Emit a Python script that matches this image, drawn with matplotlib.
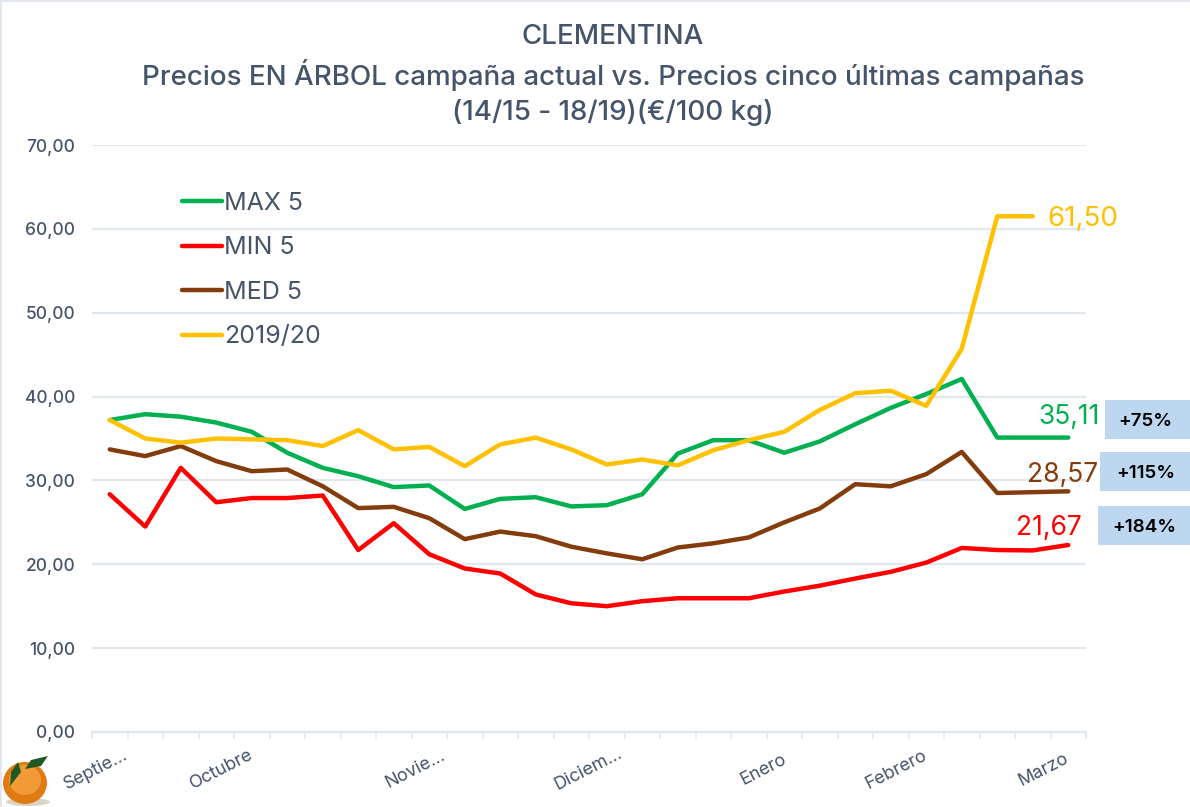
import matplotlib
matplotlib.use("Agg")
import matplotlib.pyplot as plt
from matplotlib.patches import Ellipse, Polygon, Rectangle
import numpy as np

plt.rcParams['font.family'] = ['Inter', 'DejaVu Sans']

# prices (EUR/100 kg), one value per fortnight
max5 = [37.2, 37.9, 37.6, 36.9, 35.8, 33.3, 31.5, 30.5, 29.2, 29.4, 26.6, 27.8, 28.0, 26.9,
        27.05, 28.35, 33.2, 34.8, 34.8, 33.3, 34.65, 36.7, 38.65, 40.3, 42.1, 35.11, 35.11, 35.11]
min5 = [28.35, 24.5, 31.5, 27.4, 27.9, 27.9, 28.2, 21.7, 24.9, 21.2, 19.5, 18.9, 16.4, 15.35,
        15.0, 15.6, 15.95, 15.95, 15.95, 16.75, 17.45, 18.3, 19.1, 20.2, 21.95, 21.7, 21.65, 22.3]
med5 = [33.7, 32.9, 34.1, 32.3, 31.1, 31.3, 29.3, 26.7, 26.85, 25.5, 23.0, 23.9, 23.35, 22.1,
        21.3, 20.6, 22.0, 22.5, 23.2, 25.0, 26.65, 29.55, 29.3, 30.75, 33.4, 28.5, 28.6, 28.7]
cur = [37.2, 35.0, 34.5, 35.0, 34.9, 34.8, 34.1, 36.0, 33.7, 34.0, 31.7, 34.3, 35.1, 33.7,
       31.9, 32.5, 31.8, 33.6, 34.8, 35.8, 38.4, 40.4, 40.7, 38.9, 45.7, 61.5, 61.5]

months = ['Septie...', 'Octubre', 'Novie...', 'Diciem...', 'Enero', 'Febrero', 'Marzo']
month_pos = [-0.4, 3.16, 8.6, 13.47, 18.4, 22.15, 26.3]
yticks = [0, 10, 20, 30, 40, 50, 60, 70]

series_labels = ['MAX 5', 'MIN 5', 'MED 5', '2019/20']
end_labels = ['61,50', '35,11', '28,57', '21,67']
pct_labels = ['+75%', '+115%', '+184%']

GREEN = '#00B050'
RED = '#FF0000'
BROWN = '#843C0C'
YELLOW = '#FFC000'
TEXT = '#44546A'
GRID = '#E2E7EE'

W, H = 1190, 807


def fx(x):
    return x / W


def fy(y):
    return 1 - y / H


fig = plt.figure(figsize=(W / 100, H / 100), dpi=100)
ax = fig.add_axes([fx(92), fy(732), (1086 - 92) / W, (732 - 145) / H])

n = len(max5)
lw = 3.2
ax.plot(range(n), max5, color=GREEN, lw=lw, label=series_labels[0], solid_capstyle='round', zorder=3)
ax.plot(range(n), min5, color=RED, lw=lw, label=series_labels[1], solid_capstyle='round', zorder=3)
ax.plot(range(n), med5, color=BROWN, lw=lw, label=series_labels[2], solid_capstyle='round', zorder=3)
ax.plot(range(len(cur)), cur, color=YELLOW, lw=lw, label=series_labels[3], solid_capstyle='round', zorder=4)

ax.set_xlim(-0.5, n - 0.5)
ax.set_ylim(0, 70)
ax.set_yticks(yticks)
ax.set_yticklabels([f'{v},00' for v in yticks], color=TEXT, fontsize=12.5, fontweight='medium')
ax.tick_params(axis='y', length=0, pad=12)
ax.grid(axis='y', color=GRID, lw=1.6, zorder=0)
ax.set_axisbelow(True)
for s in ['top', 'right', 'left']:
    ax.spines[s].set_visible(False)
ax.spines['bottom'].set_color(GRID)
ax.spines['bottom'].set_linewidth(1.6)

# month names sit between the tick marks
ax.set_xticks(np.arange(-0.5, n, 1), minor=True)
ax.tick_params(axis='x', which='minor', length=5, width=1.2, color=GRID)
ax.set_xticks(month_pos)
ax.set_xticklabels(months, rotation=27, ha='center', va='center', color=TEXT, fontsize=13)
ax.tick_params(axis='x', which='major', length=0, pad=27)

ax.legend(loc='upper left', bbox_to_anchor=(0.0905, 0.92), frameon=False, fontsize=18,
          labelcolor=TEXT, handlelength=1.6, handletextpad=0.1, labelspacing=0.86,
          borderpad=0, borderaxespad=0)

# end of line values
fig.text(fx(1083), fy(219), end_labels[0], color=YELLOW, fontsize=20, ha='center', va='center')
fig.text(fx(1069.5), fy(417), end_labels[1], color=GREEN, fontsize=19, ha='center', va='center')
fig.text(fx(1063), fy(475), end_labels[2], color=BROWN, fontsize=19, ha='center', va='center')
fig.text(fx(1049), fy(528), end_labels[3], color=RED, fontsize=19, ha='center', va='center')

# percent boxes on the right edge
boxes = [(1105, 400, 39, 1145, 421), (1100, 452, 39, 1146, 474), (1098, 506, 39, 1144, 528)]
for (bx, by, bh, tx, ty), lab in zip(boxes, pct_labels):
    fig.add_artist(Rectangle((fx(bx), fy(by + bh)), (W - bx) / W, bh / H, color='#BDD7EE', lw=0, zorder=5))
    fig.text(fx(tx), fy(ty), lab, color='black', fontsize=13.5, fontweight='semibold',
             ha='center', va='center', zorder=6)

# title, three separate lines
fig.text(fx(613), fy(37), 'CLEMENTINA', color=TEXT, fontsize=20, fontweight='medium', ha='center', va='center')
fig.text(fx(613), fy(75), 'Precios EN ÁRBOL campaña actual vs. Precios cinco últimas campañas',
         color=TEXT, fontsize=20, fontweight='medium', ha='center', va='center')
fig.text(fx(613), fy(112), '(14/15 - 18/19)(€/100 kg)', color=TEXT, fontsize=20, fontweight='medium',
         ha='center', va='center')

# frame of the chart area, only top and left are visible
fig.add_artist(Rectangle((0, fy(2)), 1, 2 / H, color=GRID, lw=0))
fig.add_artist(Rectangle((0, 0), 2 / W, 1, color=GRID, lw=0))

# little orange in the corner
fig.add_artist(Ellipse((fx(28), fy(802)), 44 / W, 8 / H, color='#D9D4C4', lw=0, zorder=4))
fig.add_artist(Ellipse((fx(25), fy(783)), 44 / W, 42 / H, color='#E07A12', lw=0, zorder=5))
fig.add_artist(Ellipse((fx(25), fy(780)), 32 / W, 30 / H, color='#F29A35', lw=0, zorder=5))
fig.add_artist(Polygon([(fx(10), fy(786)), (fx(11), fy(772)), (fx(18), fy(762)), (fx(21), fy(772))],
                       color='#1F5A22', lw=0, zorder=6))
fig.add_artist(Polygon([(fx(25), fy(769)), (fx(31), fy(760)), (fx(48), fy(756)), (fx(41), fy(766))],
                       color='#1F5A22', lw=0, zorder=6))

fig.savefig('out.png', dpi=100)
